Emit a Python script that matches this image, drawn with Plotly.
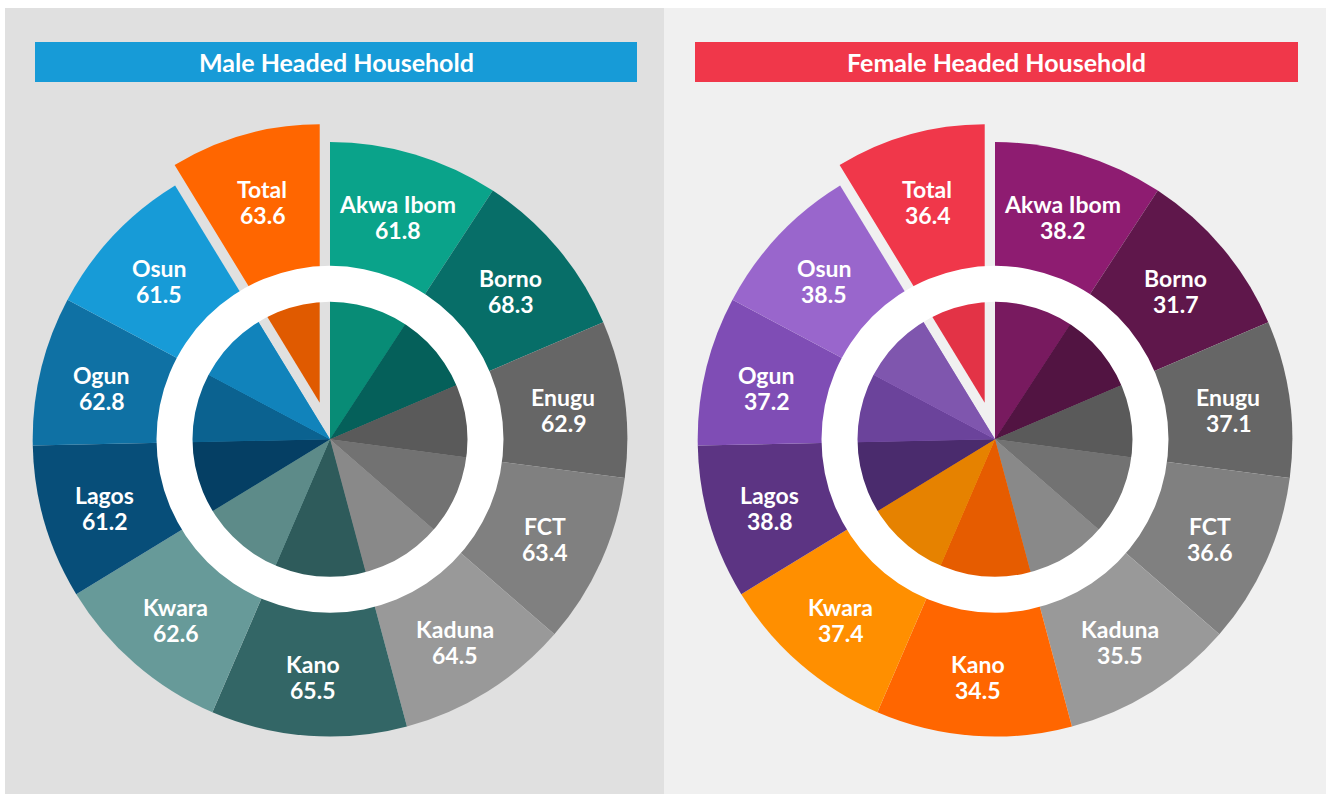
import math
import plotly.graph_objects as go

W, H = 1326, 794

# ---------------- data ----------------
regions = ["Akwa Ibom", "Borno", "Enugu", "FCT", "Kaduna", "Kano",
           "Kwara", "Lagos", "Ogun", "Osun", "Total"]
male_values = [61.8, 68.3, 62.9, 63.4, 64.5, 65.5, 62.6, 61.2, 62.8, 61.5, 63.6]
female_values = [38.2, 31.7, 37.1, 36.6, 35.5, 34.5, 37.4, 38.8, 37.2, 38.5, 36.4]
panel_titles = ["Male Headed Household", "Female Headed Household"]

# ---------------- design (not data) ----------------
# angular width of each sector as drawn in the infographic (degrees, clockwise from 12 o'clock)
sector_span_deg = [33.2, 33.6, 30.7, 33.5, 34.0, 38.3, 35.3, 30.2, 29.2, 30.6, 31.4]

male_outer = ["#0aa38a", "#076e68", "#666666", "#808080", "#999999", "#336666",
              "#679a99", "#074e79", "#0f71a4", "#179bd7", "#ff6600"]
male_inner = ["#088c76", "#05605a", "#5a5a5a", "#727272", "#898989", "#2e5b5b",
              "#5d8b89", "#053f64", "#0b6290", "#1183bb", "#e05a00"]
female_outer = ["#8e1c71", "#5f174b", "#666666", "#808080", "#999999", "#ff6600",
                "#ff8f00", "#5c3483", "#7f4db5", "#9966cc", "#f0374a"]
female_inner = ["#781a5f", "#521442", "#5a5a5a", "#727272", "#898989", "#e65c00",
                "#e68200", "#4a2b6d", "#6b439b", "#7f56ae", "#e33346"]

title_colors = ["#179bd7", "#f0374a"]
panel_bg = ["#e0e0e0", "#f0f0f0"]
panel_x = [(5, 664), (664, 1326)]
title_x = [(35, 637), (695, 1298)]
centers = [(330.0, 439.3), (995.0, 439.3)]

R_OUT = 297.3
R_RING_OUT = 173.5
R_RING_IN = 137.5
R_TOTAL = 278.5
PULL_PX = 38.0
R_INNER = 150.0
R_INNER_TOTAL = 120.0
LABEL_R = (R_RING_OUT + R_OUT) / 2
TOTAL_LABEL_R = PULL_PX + 212.0
LABEL_DY = 3.0
LINE_HALF = 13.0

FONT = "Lato"
CLEAR = "rgba(0,0,0,0)"


def dom(cx, cy, r, pull=0.0):
    half = r * (1 + pull)
    return dict(x=[(cx - half) / W, (cx + half) / W],
                y=[1 - (cy + half) / H, 1 - (cy - half) / H])


def pie(cx, cy, r, colors, pull=None, hole=0.0, values=None):
    p = max(pull) if pull else 0.0
    return go.Pie(
        values=values if values is not None else sector_span_deg,
        labels=regions if values is None else ["ring"],
        marker=dict(colors=colors, line=dict(width=0)),
        sort=False, direction="clockwise", rotation=0,
        pull=pull, hole=hole, textinfo="none", hoverinfo="skip",
        showlegend=False, domain=dom(cx, cy, r, p),
    )


fig = go.Figure()
shapes, annotations = [], []

bounds = [0.0]
for s in sector_span_deg:
    bounds.append(bounds[-1] + s)
mids = [(bounds[i] + bounds[i + 1]) / 2 for i in range(len(sector_span_deg))]

for k, (values, outer, inner) in enumerate([(male_values, male_outer, male_inner),
                                            (female_values, female_outer, female_inner)]):
    cx, cy = centers[k]
    n = len(regions)
    ti = regions.index("Total")

    shapes.append(dict(type="rect", xref="paper", yref="paper", layer="below",
                       x0=panel_x[k][0] / W, x1=panel_x[k][1] / W, y0=0, y1=1 - 8 / H,
                       fillcolor=panel_bg[k], line=dict(width=0)))
    shapes.append(dict(type="rect", xref="paper", yref="paper", layer="below",
                       x0=title_x[k][0] / W, x1=title_x[k][1] / W,
                       y0=1 - 82 / H, y1=1 - 42 / H,
                       fillcolor=title_colors[k], line=dict(width=0)))
    annotations.append(dict(text=panel_titles[k], xref="paper", yref="paper",
                            x=(title_x[k][0] + title_x[k][1]) / 2 / W, y=1 - 62 / H,
                            showarrow=False, xanchor="center", yanchor="middle",
                            font=dict(family=FONT, size=25, color="white", weight="bold")))

    outer_cols = [c if i != ti else CLEAR for i, c in enumerate(outer)]
    total_cols = [CLEAR if i != ti else c for i, c in enumerate(outer)]
    inner_cols = [c if i != ti else CLEAR for i, c in enumerate(inner)]
    inner_total_cols = [CLEAR if i != ti else c for i, c in enumerate(inner)]

    pulls_out = [0.0] * n
    pulls_out[ti] = PULL_PX / R_TOTAL
    pulls_in = [0.0] * n
    pulls_in[ti] = PULL_PX / R_INNER_TOTAL

    fig.add_trace(pie(cx, cy, R_OUT, outer_cols))
    fig.add_trace(pie(cx, cy, R_TOTAL, total_cols, pull=pulls_out, hole=130 / R_TOTAL))
    fig.add_trace(pie(cx, cy, R_INNER, inner_cols))
    fig.add_trace(pie(cx, cy, R_INNER_TOTAL, inner_total_cols, pull=pulls_in))
    fig.add_trace(pie(cx, cy, R_RING_OUT, ["#ffffff"], hole=R_RING_IN / R_RING_OUT, values=[1]))

    for i, name in enumerate(regions):
        a = math.radians(mids[i])
        ux, uy = math.sin(a), -math.cos(a)
        r_lab = TOTAL_LABEL_R if i == ti else LABEL_R
        lx, ly = cx + r_lab * ux, cy + r_lab * uy + LABEL_DY
        for txt, dy in ((name, -LINE_HALF), (f"{values[i]:.1f}", LINE_HALF)):
            annotations.append(dict(text=txt, xref="paper", yref="paper",
                                    x=lx / W, y=1 - (ly + dy) / H,
                                    showarrow=False, xanchor="center", yanchor="middle",
                                    font=dict(family=FONT, size=23, color="white",
                                              weight="bold")))

fig.update_layout(width=W, height=H, margin=dict(l=0, r=0, t=0, b=0),
                  paper_bgcolor="white", plot_bgcolor="white",
                  shapes=shapes, annotations=annotations)

fig.write_html("out.html", config={"displayModeBar": False},
               post_script="document.body.style.margin='0';document.body.style.overflow='hidden';")
